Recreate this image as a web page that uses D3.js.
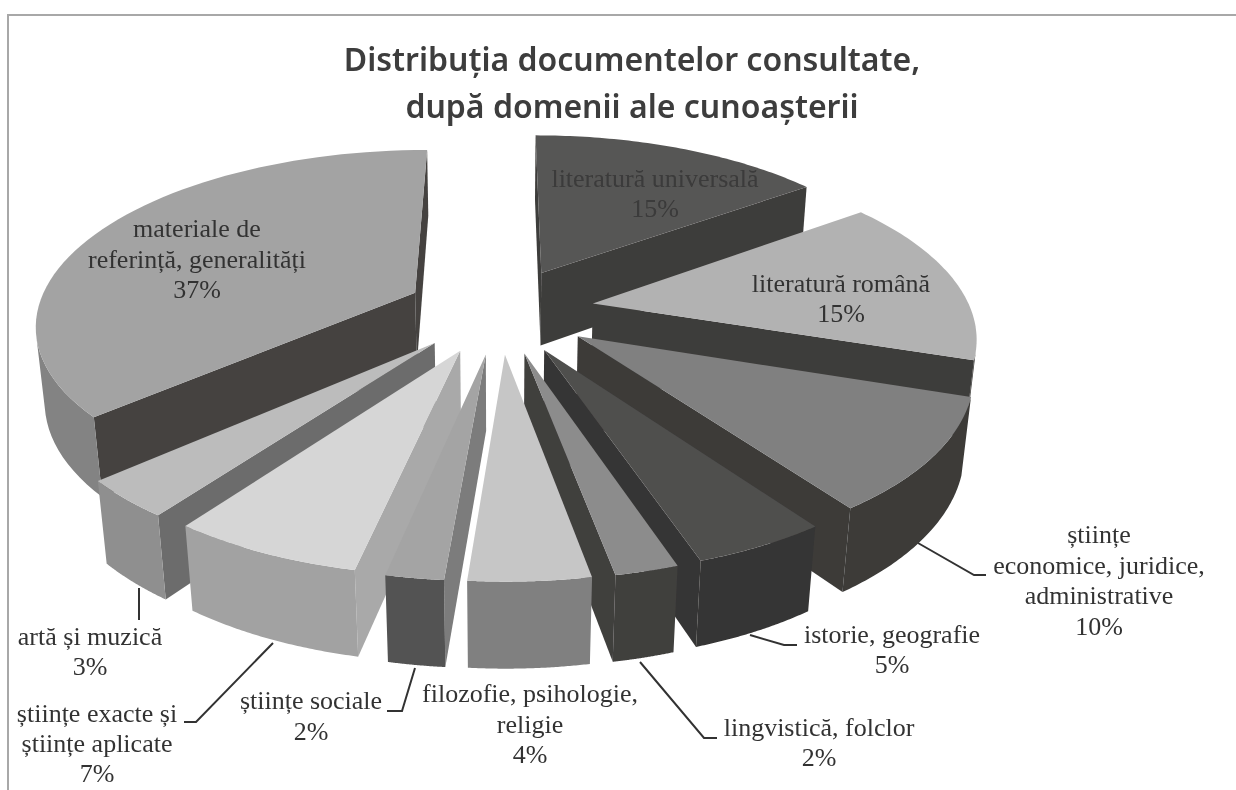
<!DOCTYPE html>
<html>
<head>
<meta charset="utf-8">
<script src="https://cdn.jsdelivr.net/npm/d3@7"></script>
<style>
  html, body { margin: 0; padding: 0; background: #fff; }
  svg { display: block; }
  .title { font-family: "Noto Sans", sans-serif; font-weight: 600; font-size: 32px; fill: #3d3d3d; text-anchor: middle; }
  .label { font-family: "Liberation Serif", serif; font-size: 26px; fill: #333; text-anchor: middle; }
</style>
</head>
<body>
<svg id="chart" width="1236" height="790"></svg>
<script>
const categories = ["literatură universală", "literatură română", "științe economice, juridice, administrative",
  "istorie, geografie", "lingvistică, folclor", "filozofie, psihologie, religie", "științe sociale",
  "științe exacte și științe aplicate", "artă și muzică", "materiale de referință, generalități"];
// valori estimate din desen, rotunjite dau procentele din etichete
const percents = [15, 15.2, 10.1, 4.7, 2.2, 4.2, 2, 6.7, 3.4, 36.7];
const title_lines = ["Distribuția documentelor consultate,", "după domenii ale cunoașterii"];
const label_lines = [
  ["literatură universală", "15%"],
  ["literatură română", "15%"],
  ["științe", "economice, juridice,", "administrative", "10%"],
  ["istorie, geografie", "5%"],
  ["lingvistică, folclor", "2%"],
  ["filozofie, psihologie,", "religie", "4%"],
  ["științe sociale", "2%"],
  ["științe exacte și", "științe aplicate", "7%"],
  ["artă și muzică", "3%"],
  ["materiale de", "referință, generalități", "37%"]
];
// culori: suprafata, perete exterior, perete interior
const top_colors = ["#575655", "#b2b2b2", "#808080", "#504f4e", "#8c8c8c", "#c6c6c6", "#a4a4a4", "#d6d6d6", "#bcbcbc", "#a3a3a3"];
const outer_colors = ["#3e3d3b", "#3e3d3b", "#3c3b39", "#363534", "#403f3e", "#808080", "#525252", "#a2a2a2", "#8f8f8f", "#838383"];
const inner_colors = ["#3e3d3b", "#3e3d3b", "#3c3b39", "#363534", "#403f3e", "#808080", "#7c7c7c", "#a9a9a9", "#6c6c6c", "#454341"];
// pozitii etichete: centru x, linia de baza a primului rand, pas
const label_pos = [[655, 187, 30], [841, 292, 30], [1099, 543, 30.5], [892, 643, 30], [819, 736, 30],
  [530, 702, 30.5], [311, 709, 31], [97, 722, 30], [90, 645, 30], [197, 237, 30.5]];
const leaders = [null, null,
  [[918, 543], [974, 575], [986, 575]],
  [[750, 635], [784, 645], [797, 645]],
  [[640, 662], [704, 738], [717, 738]],
  null,
  [[415, 668], [402, 711], [387, 711]],
  [[273, 643], [196, 722], [184, 722]],
  [[139, 588], [139, 620]],
  null];

const cx = 500, cy = 310;
const scale = 378;
const sin_tilt = 0.455, cos_tilt = Math.sqrt(1 - sin_tilt * sin_tilt);
const camera = 5.33;
const explode = 0.25, thickness = 0.225;

// proiectie perspectiva: x dreapta, y spre privitor, z in sus
function project(x, y, z) {
  const v = y * sin_tilt - z * cos_tilt;
  const w = y * cos_tilt + z * sin_tilt;
  const s = scale / (1 - w / camera);
  return [cx + x * s, cy + v * s];
}

function area(pts) {
  return d3.sum(pts, (p, i) => {
    const q = pts[(i + 1) % pts.length];
    return p[0] * q[1] - q[0] * p[1];
  });
}

const svg = d3.select("#chart");
svg.append("defs").append("filter").attr("id", "scan")
  .append("feGaussianBlur").attr("stdDeviation", 0.5);
const root = svg.append("g").attr("filter", "url(#scan)");

root.append("path")
  .attr("d", "M8,790V15H1236")
  .attr("fill", "none").attr("stroke", "#a8a8a8").attr("stroke-width", 2);

const pie = d3.pie().sort(null).value(d => d);
const slices = pie(percents).map((d, i) => {
  const mid = (d.startAngle + d.endAngle) / 2;
  return {i, a0: d.startAngle, a1: d.endAngle, mid,
    ox: explode * Math.sin(mid), oy: -explode * Math.cos(mid)};
});
slices.sort((p, q) => p.oy - q.oy);

const line = d3.line();
slices.forEach(s => {
  const g = root.append("g");
  const point = (r, a, z) => project(s.ox + r * Math.sin(a), s.oy - r * Math.cos(a), z);
  const face = (pts, color) => {
    if(area(pts) <= 0) return;
    g.append("path").attr("d", line(pts) + "Z").attr("fill", color);
  };
  // pereti interiori
  face([point(0, 0, 0), point(1, s.a1, 0), point(1, s.a1, -thickness), point(0, 0, -thickness)], inner_colors[s.i]);
  face([point(1, s.a0, 0), point(0, 0, 0), point(0, 0, -thickness), point(1, s.a0, -thickness)], inner_colors[s.i]);
  // perete exterior: doar portiunea vizibila
  const steps = d3.range(0, 61).map(k => s.a0 + (s.a1 - s.a0) * k / 60);
  const visible = d3.pairs(steps).filter(([a, b]) =>
    area([point(1, a, -thickness), point(1, b, -thickness), point(1, b, 0), point(1, a, 0)]) > 0);
  if(visible.length) {
    const angles = [visible[0][0]].concat(visible.map(p => p[1]));
    const wall = angles.map(a => point(1, a, 0)).concat(angles.slice().reverse().map(a => point(1, a, -thickness)));
    g.append("path").attr("d", line(wall) + "Z").attr("fill", outer_colors[s.i]);
  }
  // suprafata
  const top = [point(0, 0, 0)].concat(steps.map(a => point(1, a, 0)));
  g.append("path").attr("d", line(top) + "Z").attr("fill", top_colors[s.i]);
});

leaders.forEach(pts => {
  if(!pts) return;
  root.append("path").attr("d", line(pts)).attr("fill", "none").attr("stroke", "#333").attr("stroke-width", 2);
});

title_lines.forEach((t, i) => {
  root.append("text").attr("class", "title").attr("x", 632).attr("y", 71 + i * 47).text(t);
});

label_lines.forEach((lines, i) => {
  const [x, y, step] = label_pos[i];
  lines.forEach((t, k) => {
    root.append("text").attr("class", "label").attr("x", x).attr("y", y + k * step)
      .style("fill", i === 0 ? "#3a3a3a" : null).text(t);
  });
});
</script>
</body>
</html>
